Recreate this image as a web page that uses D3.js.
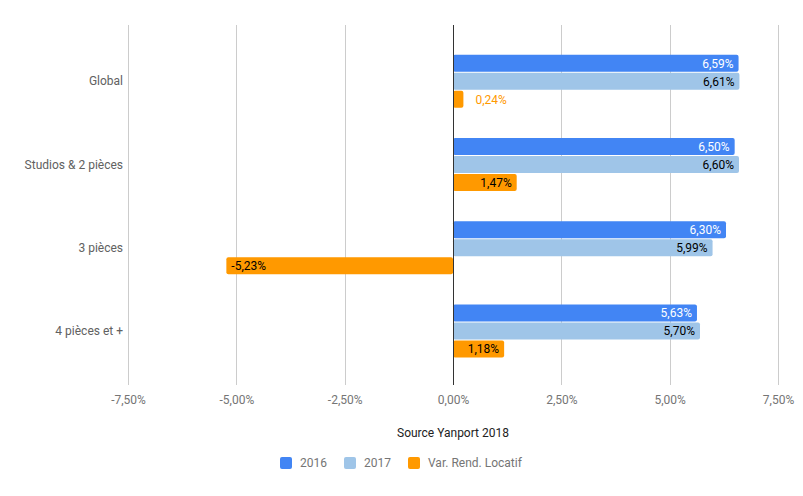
<!DOCTYPE html>
<html><head><meta charset="utf-8">
<script src="https://cdn.jsdelivr.net/npm/d3@7"></script>
<style>body{margin:0;background:#fff}svg{display:block;font-family:Roboto,Arial,sans-serif}</style>
</head><body><div id="chart"></div>
<script>
const categories = ["Global", "Studios & 2 pièces", "3 pièces", "4 pièces et +"];
const seriesNames = ["2016", "2017", "Var. Rend. Locatif"];
const values2016 = [6.59, 6.50, 6.30, 5.63];
const values2017 = [6.61, 6.60, 5.99, 5.70];
const valuesVar = [0.24, 1.47, -5.23, 1.18];
const xTicks = [-7.5, -5, -2.5, 0, 2.5, 5, 7.5];
const colors = ["#4285f4", "#9fc5e8", "#ff9900"];
const labelColors = ["#ffffff", "#000000", "#000000"];
const title = "Source Yanport 2018";

const W = 803, H = 496;
const svg = d3.select("#chart").append("svg").attr("width", W).attr("height", H);
const fmt = v => v.toFixed(2).replace(".", ",") + "%";

const x = d3.scaleLinear().domain([-7.5, 7.5]).range([128, 778]);
const y = d3.scaleBand().domain(categories).range([40, 373]);
const inner = d3.scaleBand().domain(seriesNames).range([0, 54]);
const plotTop = 25, plotBottom = 385;

// gridlines
const g = svg.append("g");
g.selectAll("line.grid").data(xTicks.filter(t => t !== 0)).join("line")
  .attr("x1", d => Math.round(x(d)) + 0.5).attr("x2", d => Math.round(x(d)) + 0.5)
  .attr("y1", plotTop).attr("y2", plotBottom).attr("stroke", "#cccccc");

// axis labels via d3 axis
const axis = d3.axisBottom(x).tickValues(xTicks).tickFormat(fmt).tickSize(0).tickPadding(0);
const ax = svg.append("g").attr("transform", `translate(0,${395})`).call(axis);
ax.select(".domain").remove();
ax.selectAll("text").attr("fill", "#757575").attr("font-size", 12).attr("dy", "0.71em").style("font-family", "Roboto");

const yAxis = d3.axisLeft(y).tickSize(0).tickPadding(0);
const ay = svg.append("g").attr("transform", `translate(123,0)`).call(yAxis);
ay.select(".domain").remove();
ay.selectAll("text").attr("fill", "#616161").attr("font-size", 12).style("font-family", "Roboto");

const data = [];
categories.forEach((c, i) => {
  [values2016[i], values2017[i], valuesVar[i]].forEach((v, j) => data.push({c, s: seriesNames[j], j, v}));
});

const groupOffset = (y.bandwidth() - 54) / 2;
const barH = inner.bandwidth() - 1;

svg.append("g").selectAll("rect").data(data).join("rect")
  .attr("x", d => x(Math.min(0, d.v)))
  .attr("width", d => Math.abs(x(d.v) - x(0)))
  .attr("y", d => y(d.c) + groupOffset + inner(d.s))
  .attr("height", barH)
  .attr("rx", 2)
  .attr("fill", d => colors[d.j]);

// zero line
svg.append("line").attr("x1", Math.round(x(0)) + 0.5).attr("x2", Math.round(x(0)) + 0.5)
  .attr("y1", plotTop).attr("y2", plotBottom).attr("stroke", "#333333");

// value labels
svg.append("g").selectAll("text").data(data).join("text")
  .attr("font-size", 12)
  .attr("y", d => y(d.c) + groupOffset + inner(d.s) + barH / 2)
  .attr("dy", "0.38em")
  .each(function(d) {
    const w = Math.abs(x(d.v) - x(0));
    const t = d3.select(this).text(fmt(d.v));
    if (w < 45) {
      t.attr("x", x(d.v) + 12).attr("text-anchor", "start").attr("fill", colors[d.j]);
    } else if (d.v < 0) {
      t.attr("x", x(d.v) + 5).attr("text-anchor", "start").attr("fill", labelColors[d.j]);
    } else {
      t.attr("x", x(d.v) - 5).attr("text-anchor", "end").attr("fill", labelColors[d.j]);
    }
  });

// title
svg.append("text").attr("x", x(0)).attr("y", 437).attr("text-anchor", "middle")
  .attr("font-size", 12).attr("fill", "#222222").text(title);

// legend
const legendX = [280, 344, 408];
const lg = svg.append("g").selectAll("g").data(seriesNames).join("g")
  .attr("transform", (d, i) => `translate(${legendX[i]},${457})`);
lg.append("rect").attr("width", 12).attr("height", 12).attr("rx", 2).attr("fill", (d, i) => colors[i]);
lg.append("text").attr("x", 20).attr("y", 6).attr("dy", "0.35em").attr("font-size", 12)
  .attr("fill", "#757575").text(d => d);
</script></body></html>
